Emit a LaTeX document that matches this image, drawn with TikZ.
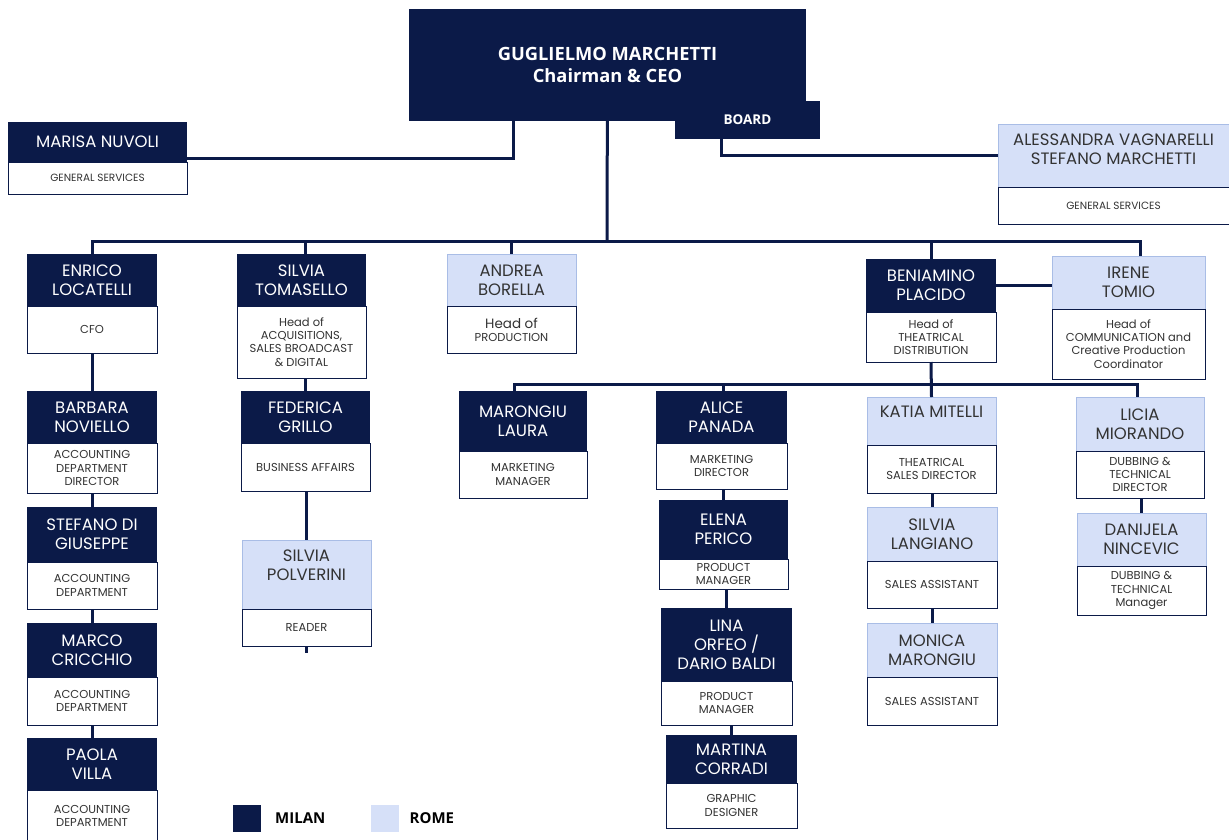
\documentclass[tikz,border=0pt]{standalone}
\usepackage{fontspec}
\setmainfont{Poppins}
\newfontfamily\headfont{Open Sans}
\usetikzlibrary{positioning}

\definecolor{navy}{HTML}{0B1A48}
\definecolor{sky}{HTML}{D6E0F8}
\definecolor{skyline}{HTML}{A9BDE6}
\definecolor{ink}{HTML}{333333}

\newcommand{\namefont}{\fontsize{16.5}{18.8}\selectfont}
\newcommand{\rolefont}{\fontsize{11.5}{13.2}\selectfont}

\begin{document}
\begin{tikzpicture}[x=1pt, y=-1pt,
    box/.style={rectangle, inner sep=1pt, outer sep=0pt, align=center},
    milan/.style={box, fill=navy, text=white, font=\namefont},
    rome/.style={box, fill=sky, draw=skyline, line width=0.8pt, text=ink, font=\namefont},
    role/.style={box, fill=white, draw=navy, line width=0.9pt, text=ink, font=\rolefont},
    link/.style={draw=navy, line width=3pt},
    keytext/.style={inner sep=0pt, anchor=west, font=\headfont\bfseries\fontsize{15}{17}\selectfont}]
  \useasboundingbox (0,0) rectangle (1229,839);

  % top
  \node[milan, minimum width=397pt, minimum height=112pt, font=\headfont\bfseries\fontsize{18.3}{22}\selectfont] (ceo) at (607.5,65) {GUGLIELMO MARCHETTI\\Chairman \& CEO};
  \node[milan, minimum width=145pt, minimum height=38pt, font=\headfont\bfseries\fontsize{13.5}{16}\selectfont] (board) at (747.5,120) {BOARD};
  \node[milan, minimum width=179pt, minimum height=40pt] (marisa) at (97.5,142) {MARISA NUVOLI};
  \node[role, minimum width=179pt, minimum height=32pt, below=0pt of marisa, font=\fontsize{10.5}{12}\selectfont] (marisaR) {GENERAL SERVICES};
  \node[rome, minimum width=231pt, minimum height=63pt] (alessandra) at (1113.5,155.5) {ALESSANDRA VAGNARELLI\\STEFANO MARCHETTI\\[-6.5pt]};
  \node[role, minimum width=231pt, minimum height=37pt, below=0pt of alessandra, font=\fontsize{10.5}{12}\selectfont] (alessandraR) {GENERAL SERVICES};

  % finance
  \node[milan, minimum width=130pt, minimum height=52pt] (enrico) at (92,280) {ENRICO\\LOCATELLI};
  \node[role, minimum width=130pt, minimum height=47pt, below=0pt of enrico] (enricoR) {CFO};
  \node[milan, minimum width=130pt, minimum height=52pt] (barbara) at (92,417) {BARBARA\\NOVIELLO};
  \node[role, minimum width=130pt, minimum height=50pt, below=0pt of barbara] (barbaraR) {ACCOUNTING\\DEPARTMENT\\DIRECTOR};
  \node[milan, minimum width=130pt, minimum height=55pt] (stefano) at (92,534.5) {STEFANO DI\\GIUSEPPE};
  \node[role, minimum width=130pt, minimum height=47pt, below=0pt of stefano] (stefanoR) {ACCOUNTING\\DEPARTMENT};
  \node[milan, minimum width=130pt, minimum height=54pt] (marco) at (92,650) {MARCO\\CRICCHIO};
  \node[role, minimum width=130pt, minimum height=48pt, below=0pt of marco] (marcoR) {ACCOUNTING\\DEPARTMENT};
  \node[milan, minimum width=130pt, minimum height=52pt] (paola) at (92,764) {PAOLA\\VILLA};
  \node[role, minimum width=130pt, minimum height=52pt, below=0pt of paola] (paolaR) {ACCOUNTING\\DEPARTMENT};

  % acquisitions
  \node[milan, minimum width=129pt, minimum height=52pt] (silviat) at (301.5,280) {SILVIA\\TOMASELLO};
  \node[role, minimum width=129pt, minimum height=72pt, below=0pt of silviat] (silviatR) {Head of\\ACQUISITIONS,\\SALES BROADCAST\\\& DIGITAL};
  \node[milan, minimum width=129pt, minimum height=52pt] (federica) at (305.5,417) {FEDERICA\\GRILLO};
  \node[role, minimum width=129pt, minimum height=48pt, below=0pt of federica] (federicaR) {BUSINESS AFFAIRS};
  \node[rome, minimum width=129pt, minimum height=69pt] (polverini) at (306.5,574.5) {SILVIA\\POLVERINI\\ {}};
  \node[role, minimum width=129pt, minimum height=37pt, below=0pt of polverini] (polveriniR) {READER};

  % production and marketing
  \node[rome, minimum width=129pt, minimum height=52pt] (andrea) at (511.5,280) {ANDREA\\BORELLA};
  \node[role, minimum width=129pt, minimum height=47pt, below=0pt of andrea] (andreaR) {{\fontsize{13.5}{14.5}\selectfont Head of}\\PRODUCTION};
  \node[milan, minimum width=128pt, minimum height=60pt] (laura) at (523,421) {MARONGIU\\LAURA};
  \node[role, minimum width=128pt, minimum height=47pt, below=0pt of laura] (lauraR) {MARKETING\\MANAGER};
  \node[milan, minimum width=131pt, minimum height=52pt] (alice) at (721.5,417) {ALICE\\PANADA};
  \node[role, minimum width=131pt, minimum height=46pt, below=0pt of alice] (aliceR) {MARKETING\\DIRECTOR};
  \node[milan, minimum width=129pt, minimum height=59pt] (elena) at (723.5,529.5) {ELENA\\PERICO};
  \node[role, minimum width=129pt, minimum height=30pt, below=0pt of elena] (elenaR) {PRODUCT\\MANAGER};
  \node[milan, minimum width=131pt, minimum height=73pt] (lina) at (726.5,644.5) {LINA\\ORFEO /\\DARIO BALDI};
  \node[role, minimum width=131pt, minimum height=44pt, below=0pt of lina] (linaR) {PRODUCT\\MANAGER};
  \node[milan, minimum width=131pt, minimum height=48pt] (martina) at (731.5,759) {MARTINA\\CORRADI};
  \node[role, minimum width=131pt, minimum height=45pt, below=0pt of martina] (martinaR) {GRAPHIC\\DESIGNER};

  % distribution
  \node[milan, minimum width=130pt, minimum height=53pt] (beniamino) at (931,285.5) {BENIAMINO\\PLACIDO};
  \node[role, minimum width=130pt, minimum height=50pt, below=0pt of beniamino] (beniaminoR) {Head of\\THEATRICAL\\DISTRIBUTION};
  \node[rome, minimum width=153pt, minimum height=53pt] (irene) at (1128.5,282.5) {IRENE\\TOMIO};
  \node[role, minimum width=153pt, minimum height=70pt, below=0pt of irene] (ireneR) {Head of\\COMMUNICATION and\\Creative Production\\Coordinator};
  \node[rome, minimum width=129pt, minimum height=48pt] (katia) at (931.5,421) {KATIA MITELLI\\ {}};
  \node[role, minimum width=129pt, minimum height=48pt, below=0pt of katia] (katiaR) {THEATRICAL\\SALES DIRECTOR};
  \node[rome, minimum width=130pt, minimum height=54pt] (langiano) at (932,534) {SILVIA\\LANGIANO};
  \node[role, minimum width=130pt, minimum height=47pt, below=0pt of langiano] (langianoR) {SALES ASSISTANT};
  \node[rome, minimum width=130pt, minimum height=54pt] (monica) at (932,650) {MONICA\\MARONGIU};
  \node[role, minimum width=130pt, minimum height=48pt, below=0pt of monica] (monicaR) {SALES ASSISTANT};
  \node[rome, minimum width=128pt, minimum height=54pt] (licia) at (1140,424) {LICIA\\MIORANDO};
  \node[role, minimum width=128pt, minimum height=47pt, below=0pt of licia] (liciaR) {DUBBING \&\\TECHNICAL\\DIRECTOR};
  \node[rome, minimum width=129pt, minimum height=53pt] (danijela) at (1141.5,539.5) {DANIJELA\\NINCEVIC};
  \node[role, minimum width=129pt, minimum height=49pt, below=0pt of danijela] (danijelaR) {DUBBING \&\\TECHNICAL\\Manager};

  % legend
  \node[milan, minimum width=28pt, minimum height=27pt] (milankey) at (247,818.5) {};
  \node[keytext, right=14pt of milankey] (milanlbl) {MILAN};
  \node[rome, draw=none, minimum width=28pt, minimum height=27pt] (romekey) at (384.5,818.5) {};
  \node[keytext, right=11pt of romekey] (romelbl) {ROME};

  % connectors
  \coordinate (bus) at (607,241);
  \coordinate (bus2) at (931,384);
  \coordinate (stub) at (306.5,653);
  \draw[link] (ceo) -- (bus);
  \draw[link] ([xshift=-94pt]ceo.south) |- ([yshift=-16pt]marisa.east);
  \draw[link] ([xshift=-26pt]board.south) |- (alessandra.west);
  \foreach \n in {enrico,andrea,beniamino} \draw[link] (bus) -| (\n.north);
  \draw[link] (bus) -| ([xshift=3.5pt]silviat.north);
  \draw[link] (bus) -| ([xshift=11.5pt]irene.north);
  \draw[link] (beniamino.east) -- (irene.west |- beniamino.east);
  \draw[link] (beniaminoR.south) -- (katia.north);
  \draw[link] (bus2) -| ([xshift=-9pt]laura.north);
  \draw[link] (bus2) -| ([xshift=1.5pt]alice.north);
  \draw[link] (bus2) -| ([xshift=-3pt]licia.north);
  \foreach \a/\b in {enricoR/barbara,barbaraR/stefano,stefanoR/marco,marcoR/paola,
      silviatR/federica,federicaR/polverini,aliceR/elena,elenaR/lina,linaR/martina,
      katiaR/langiano,langianoR/monica,liciaR/danijela}
    \draw[link] (\b.north |- \a.south) -- (\b.north);
  \draw[link] (polveriniR.south) -- (stub);
\end{tikzpicture}
\end{document}
